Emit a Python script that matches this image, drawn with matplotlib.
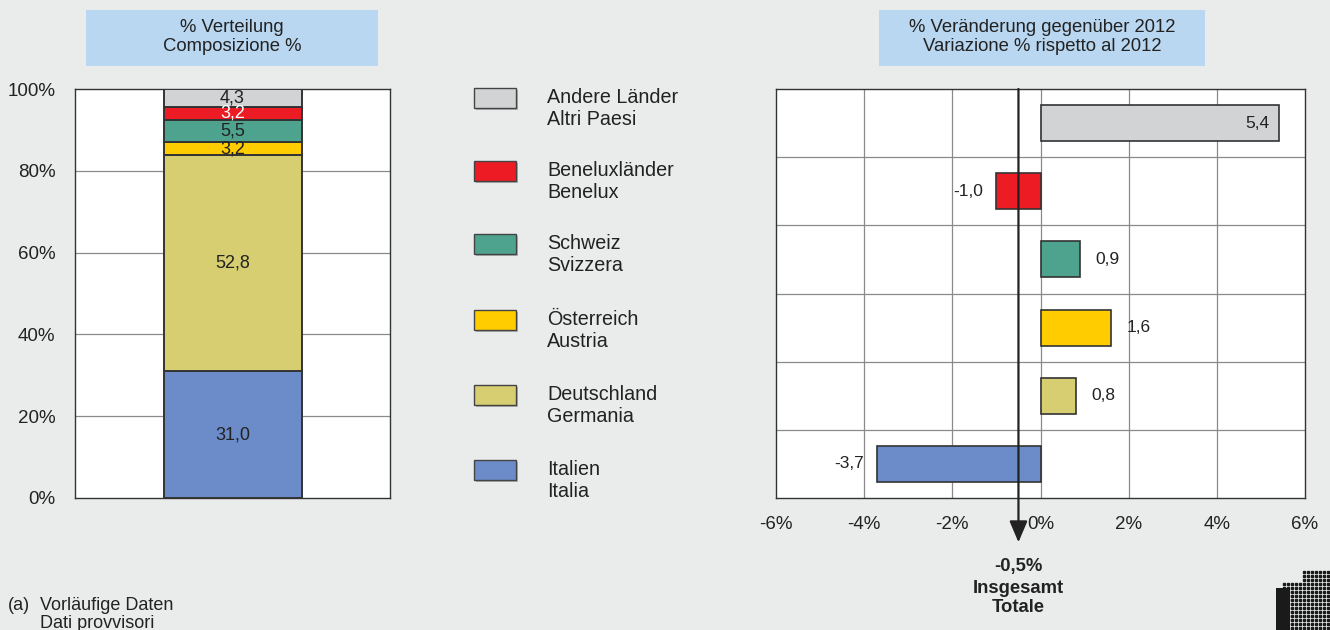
import matplotlib
matplotlib.use("Agg")
import matplotlib.pyplot as plt
from matplotlib.patches import Rectangle
import numpy as np

plt.rcParams['font.family'] = ['Liberation Sans', 'DejaVu Sans']

# ---- data ----
cats_de = ["Italien", "Deutschland", "Österreich", "Schweiz", "Beneluxländer", "Andere Länder"]
cats_it = ["Italia", "Germania", "Austria", "Svizzera", "Benelux", "Altri Paesi"]
share = [31.0, 52.8, 3.2, 5.5, 3.2, 4.3]
change = [-3.7, 0.8, 1.6, 0.9, -1.0, 5.4]
total_change = -0.5
colors = ["#6b8cc8", "#d6ce70", "#ffcc00", "#4ea38f", "#ed1c24", "#d1d3d4"]
label_colors = ["#222222", "#222222", "#222222", "#222222", "#ffffff", "#222222"]
left_ticks = [0, 20, 40, 60, 80, 100]
right_ticks = [-6, -4, -2, 0, 2, 4, 6]

BG = "#eaeceb"
EDGE = "#333333"
GRID = "#8a8a8a"
TXT = "#222222"

W, H = 1330, 630
fig = plt.figure(figsize=(W / 100, H / 100), dpi=100, facecolor=BG)

def ax_rect(x0, y0, x1, y1):
    return [x0 / W, 1 - y1 / H, (x1 - x0) / W, (y1 - y0) / H]

def fx(x):
    return x / W

def fy(y):
    return 1 - y / H

# ---- title boxes ----
for (x0, y0, x1, y1, txt) in [
    (86, 10, 378, 66, "% Verteilung\nComposizione %"),
    (879, 10, 1205, 66, "% Veränderung gegenüber 2012\nVariazione % rispetto al 2012"),
]:
    fig.patches.append(Rectangle((fx(x0), fy(y1)), fx(x1 - x0), (y1 - y0) / H,
                                 transform=fig.transFigure, facecolor="#b9d7f0",
                                 edgecolor="none", zorder=0))
    fig.text(fx((x0 + x1) / 2), fy((y0 + y1) / 2 - 1), txt, ha="center", va="center",
             fontsize=13.3, color=TXT, linespacing=1.22)

# ---- left: stacked composition bar ----
axl = fig.add_axes(ax_rect(75, 89, 390, 498))
axl.set_facecolor("white")
axl.set_xlim(0, 1)
axl.set_ylim(0, 100)
for t in left_ticks[1:-1]:
    axl.axhline(t, color=GRID, lw=0.9, zorder=1)
bottom = 0
for v, c, lc in zip(share, colors, label_colors):
    axl.bar(0.5, v, width=138 / 315, bottom=bottom, color=c, edgecolor=EDGE,
            linewidth=1.4, zorder=3)
    axl.text(0.5, bottom + v / 2, f"{v:.1f}".replace(".", ","), ha="center",
             va="center", fontsize=13, color=lc, zorder=4)
    bottom += v
axl.set_yticks(left_ticks)
axl.set_yticklabels([f"{t}%" for t in left_ticks], fontsize=13.5, color=TXT)
axl.set_xticks([])
axl.tick_params(axis="y", length=0, pad=14)
for s in axl.spines.values():
    s.set_color(EDGE)
    s.set_linewidth(1)

# ---- legend ----
leg_y = [470, 395, 320, 244, 171, 98]
for i in range(len(cats_de)):
    yc = leg_y[i]
    fig.patches.append(Rectangle((fx(476), fy(yc + 12)), fx(42), 20 / H,
                                 transform=fig.transFigure, facecolor="#b0b2b1",
                                 edgecolor="none", zorder=1))
    fig.patches.append(Rectangle((fx(474), fy(yc + 10)), fx(42), 20 / H,
                                 transform=fig.transFigure, facecolor=colors[i],
                                 edgecolor="#444444", linewidth=1, zorder=2))
    fig.text(fx(547), fy(yc - 10), f"{cats_de[i]}\n{cats_it[i]}", ha="left", va="top",
             fontsize=14.2, color=TXT, linespacing=1.18)

# ---- right: change bars ----
axr = fig.add_axes(ax_rect(776, 89, 1305, 498))
axr.set_facecolor("white")
axr.set_xlim(-6, 6)
axr.set_ylim(-0.5, 5.5)
for t in right_ticks[1:-1]:
    axr.axvline(t, color=GRID, lw=0.9, zorder=1)
for yv in np.arange(0.5, 5.0, 1.0):
    axr.axhline(yv, color=GRID, lw=0.9, zorder=1)
ypos = np.arange(len(change))
axr.barh(ypos, change, height=0.53, color=colors, edgecolor=EDGE, linewidth=1.2,
         zorder=3)
for y, v in zip(ypos, change):
    lab = f"{v:.1f}".replace(".", ",")
    if v >= 5:
        axr.text(v - 0.2, y, lab, ha="right", va="center", fontsize=12.5, color=TXT, zorder=4)
    elif v >= 0:
        axr.text(v + 0.35, y, lab, ha="left", va="center", fontsize=12.5, color=TXT, zorder=4)
    else:
        axr.text(v - 0.3, y, lab, ha="right", va="center", fontsize=12.5, color=TXT, zorder=4)
axr.set_xticks(right_ticks)
axr.set_xticklabels([f"{t}%" for t in right_ticks], fontsize=13.5, color=TXT)
axr.set_yticks([])
axr.tick_params(axis="x", length=0, pad=13)
for s in axr.spines.values():
    s.set_color(EDGE)
    s.set_linewidth(1)

# total arrow
axr.annotate("", xy=(total_change, -1.15), xytext=(total_change, 5.5),
             xycoords="data", textcoords="data", annotation_clip=False,
             arrowprops=dict(arrowstyle="-|>,head_length=1.3,head_width=0.55",
                             color=TXT, lw=1.6, shrinkA=0, shrinkB=0),
             zorder=6)
fig.canvas.draw()
x_tot = axr.transData.transform((total_change, 0))[0] / fig.bbox.width
fig.text(x_tot, fy(567), f"{total_change:.1f}%".replace(".", ","), ha="center",
         va="center", fontsize=13.3, fontweight="bold", color=TXT)
fig.text(x_tot, fy(598), "Insgesamt\nTotale", ha="center", va="center",
         fontsize=13.3, fontweight="bold", color=TXT, linespacing=1.1)

# footnote
fig.text(fx(8), fy(597), "(a)", ha="left", va="top", fontsize=13, color=TXT)
fig.text(fx(40), fy(597), "Vorläufige Daten\nDati provvisori", ha="left", va="top",
         fontsize=13, color=TXT, linespacing=1.05)

# logo (dot grid decoration, bottom right)
gx, gy = np.meshgrid(np.arange(1284, 1330, 4), np.arange(572, 630, 4))
mask = (gy > 580) | (gx > 1300)
fig.add_artist(plt.Line2D(gx[mask] / W, 1 - gy[mask] / H, ls="none", marker="s",
                          ms=1.6, color="#1a1a1a", transform=fig.transFigure))
fig.patches.append(Rectangle((fx(1276), fy(630)), fx(14), 42 / H,
                             transform=fig.transFigure, facecolor="#1a1a1a",
                             edgecolor="none"))

fig.savefig("out.png", dpi=100, facecolor=BG)
